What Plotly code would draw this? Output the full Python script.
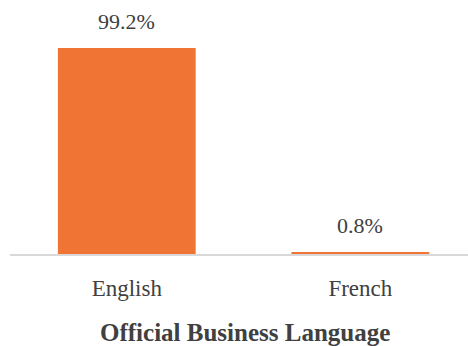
import plotly.graph_objects as go

# Share of firms by official business language
languages = ["English", "French"]
shares = [99.2, 0.8]

axis_title = "Official Business Language"

bar_color = "#F07535"
text_color = "#404040"
font_family = "Liberation Serif"

fig = go.Figure(
    go.Bar(
        x=[0, 1],
        y=shares,
        width=0.59,
        marker=dict(color=bar_color, line=dict(width=0)),
        hoverinfo="skip",
    )
)

# value labels above each bar
for i, v in enumerate(shares):
    fig.add_annotation(
        x=i,
        y=v,
        xref="x",
        yref="y",
        text=f"{v:.1f}%",
        showarrow=False,
        yanchor="bottom",
        yshift=12,
        font=dict(family=font_family, size=22, color=text_color),
    )

fig.update_layout(
    width=468,
    height=346,
    margin=dict(l=10, r=0, t=10, b=92),
    paper_bgcolor="white",
    plot_bgcolor="white",
    showlegend=False,
    font=dict(family=font_family, color=text_color),
)

fig.update_xaxes(
    range=[-0.5, 1.461],
    tickmode="array",
    tickvals=[0, 1],
    ticktext=languages,
    ticks="",
    ticklabelstandoff=13,
    tickfont=dict(family=font_family, size=23, color=text_color),
    showline=True,
    linecolor="#D9D9D9",
    linewidth=1.5,
    showgrid=False,
    zeroline=False,
    fixedrange=True,
)

fig.update_yaxes(
    range=[0, 117.5],
    visible=False,
    showgrid=False,
    zeroline=False,
    fixedrange=True,
)

fig.add_annotation(
    text=f"<b>{axis_title}</b>",
    xref="paper",
    yref="paper",
    x=0.513,
    y=0,
    yshift=-78,
    yanchor="middle",
    xanchor="center",
    showarrow=False,
    font=dict(family=font_family, size=25, color=text_color),
)

fig.write_html("out.html", config={"displayModeBar": False})
